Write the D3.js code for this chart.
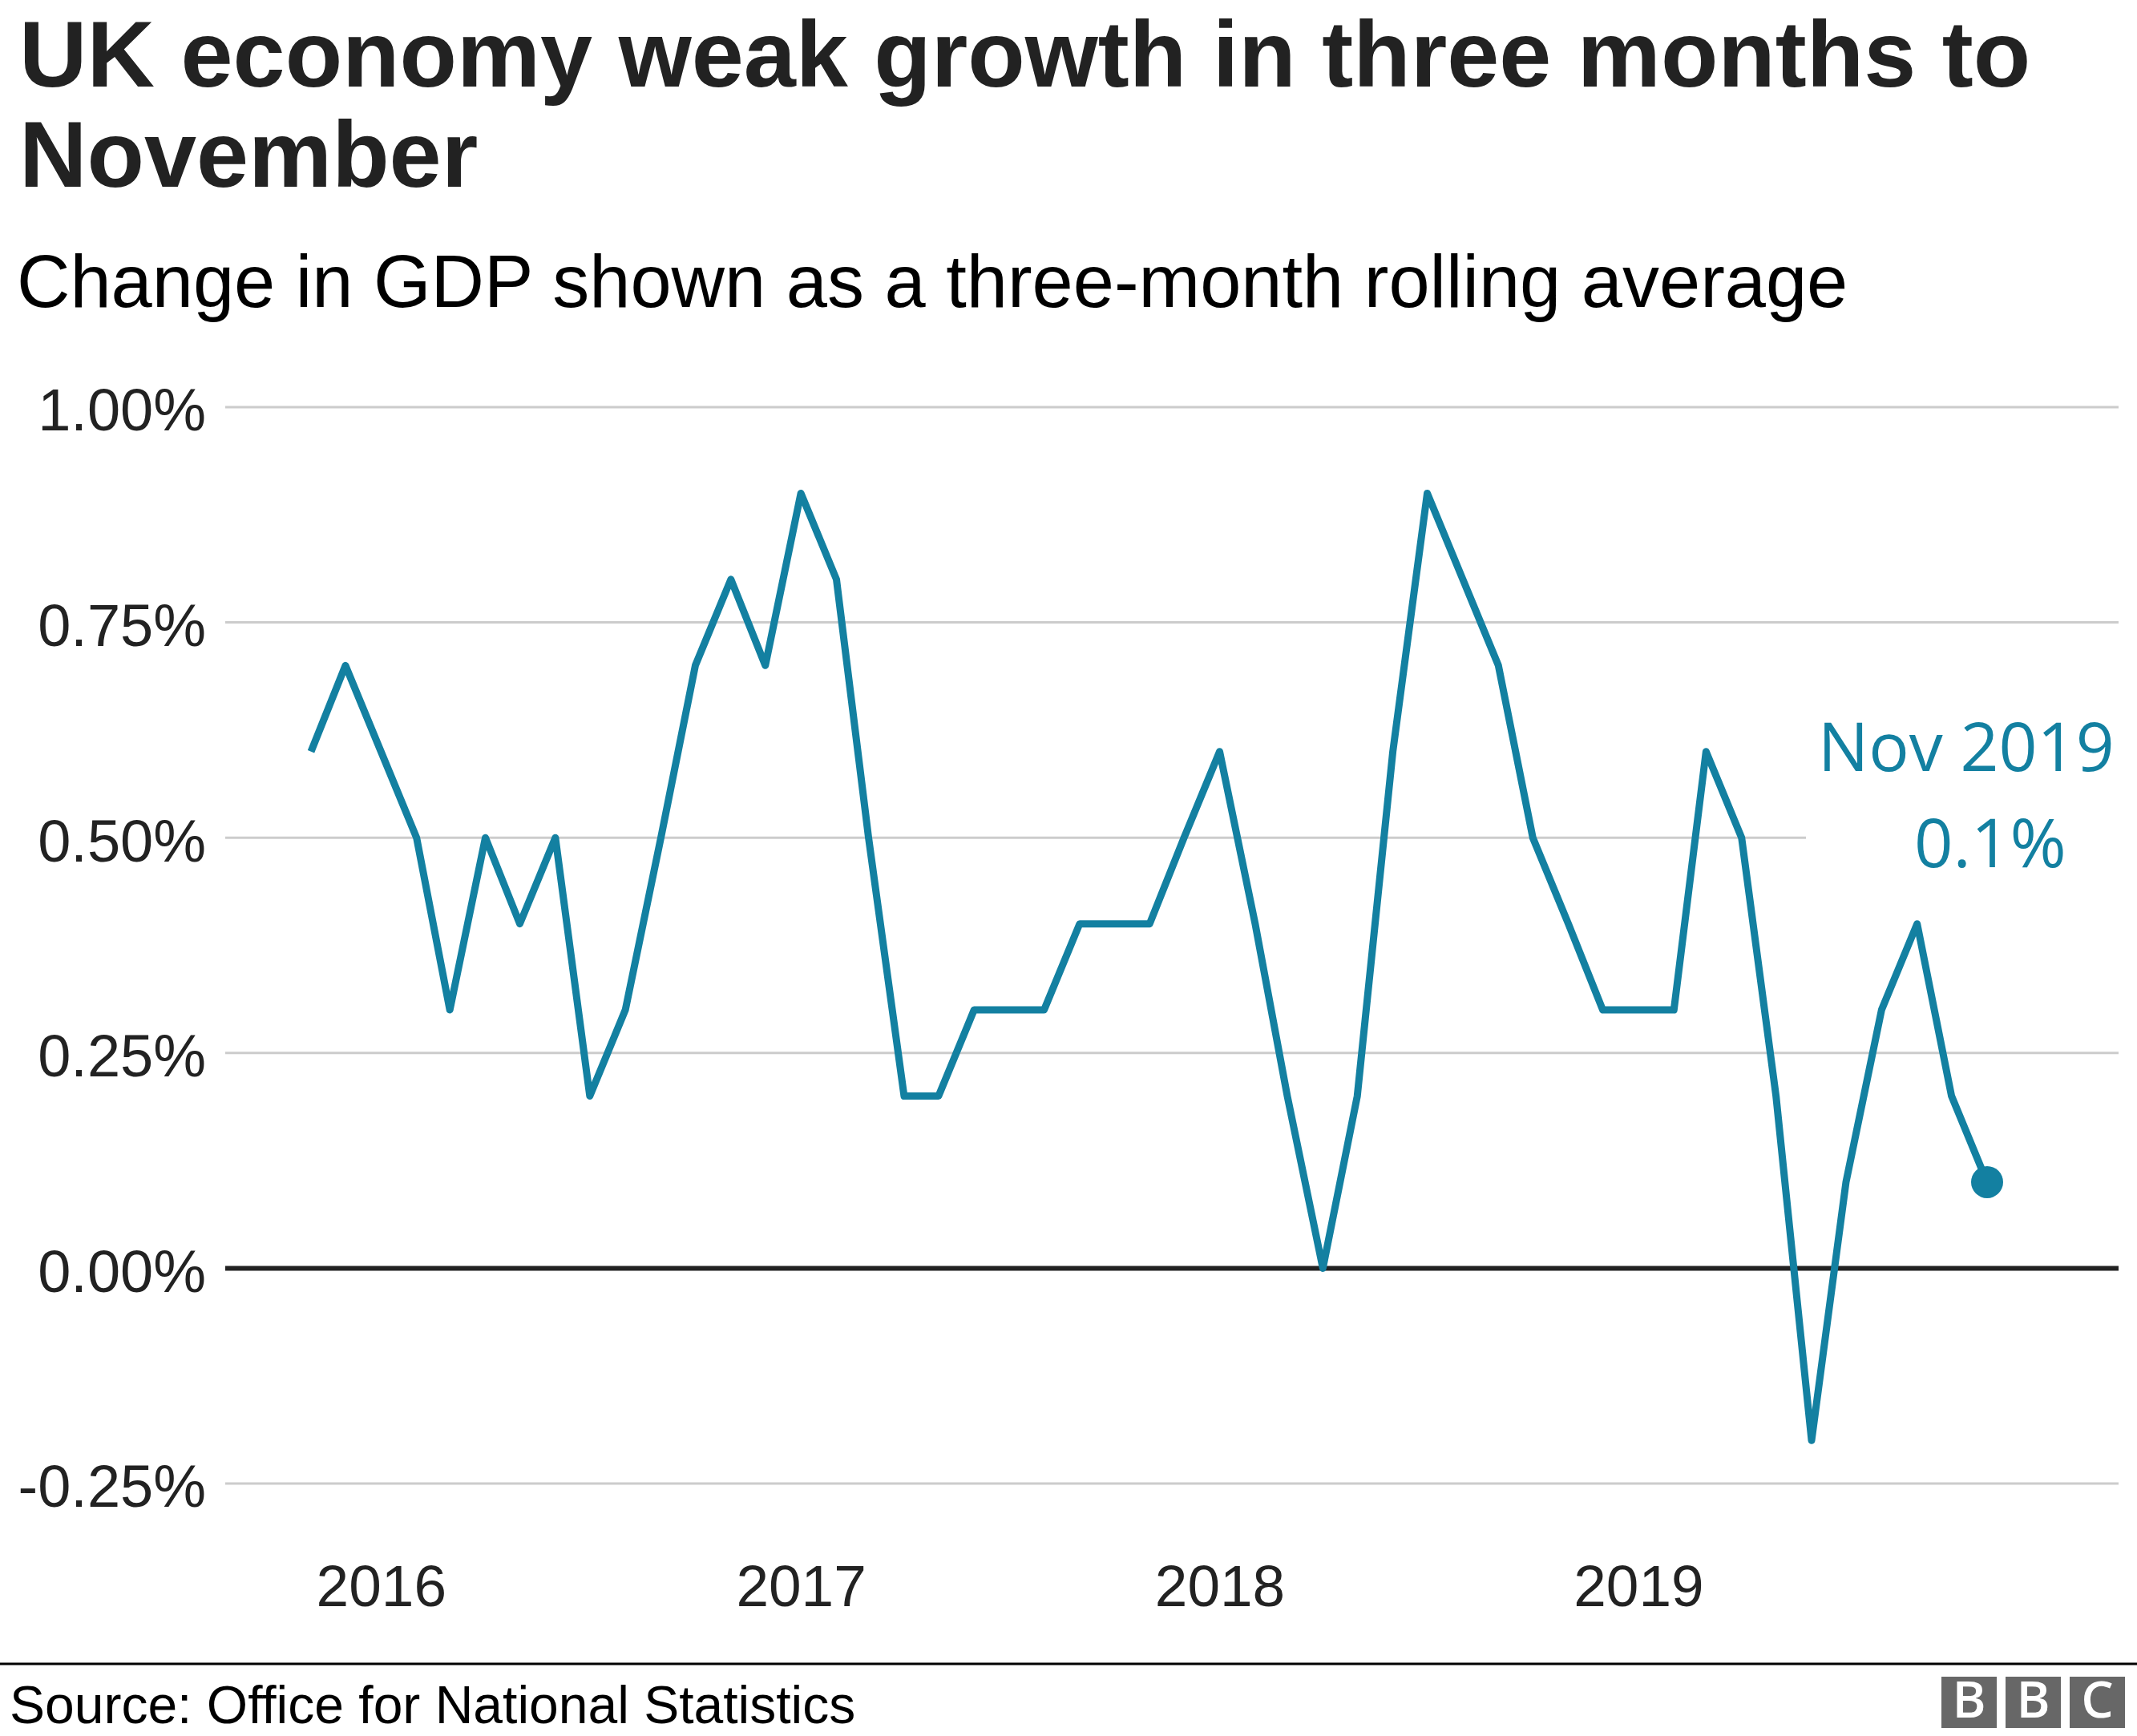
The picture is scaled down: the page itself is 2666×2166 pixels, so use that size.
<!DOCTYPE html>
<html>
<head>
<meta charset="utf-8">
<script src="https://cdn.jsdelivr.net/npm/d3@7"></script>
<style>
  html, body { margin: 0; padding: 0; background: #ffffff; }
  svg { display: block; }
</style>
</head>
<body>
<svg id="chart" width="2666" height="2166"></svg>
<script>
// ---- Data ----
const months = [
  "2015-11","2015-12",
  "2016-01","2016-02","2016-03","2016-04","2016-05","2016-06","2016-07","2016-08","2016-09","2016-10","2016-11","2016-12",
  "2017-01","2017-02","2017-03","2017-04","2017-05","2017-06","2017-07","2017-08","2017-09","2017-10","2017-11","2017-12",
  "2018-01","2018-02","2018-03","2018-04","2018-05","2018-06","2018-07","2018-08","2018-09","2018-10","2018-11","2018-12",
  "2019-01","2019-02","2019-03","2019-04","2019-05","2019-06","2019-07","2019-08","2019-09","2019-10","2019-11"
];
const gdpGrowth = [
  0.6, 0.7,
  0.6, 0.5, 0.3, 0.5, 0.4, 0.5, 0.2, 0.3, 0.5, 0.7, 0.8, 0.7,
  0.9, 0.8, 0.5, 0.2, 0.2, 0.3, 0.3, 0.3, 0.4, 0.4, 0.4, 0.5,
  0.6, 0.4, 0.2, 0.0, 0.2, 0.6, 0.9, 0.8, 0.7, 0.5, 0.4, 0.3,
  0.3, 0.3, 0.6, 0.5, 0.2, -0.2, 0.1, 0.3, 0.4, 0.2, 0.1
];
const yTicks = [-0.25, 0, 0.25, 0.5, 0.75, 1.0];
const yTickLabels = ["-0.25%", "0.00%", "0.25%", "0.50%", "0.75%", "1.00%"];
const xTickYears = ["2016", "2017", "2018", "2019"];

const titleLines = ["UK economy weak growth in three months to", "November"];
const subtitle = "Change in GDP shown as a three-month rolling average";
const source = "Source: Office for National Statistics";
const annotationLines = ["Nov 2019", "0.1%"];

// ---- Setup ----
const W = 2666, H = 2166;
const svg = d3.select("#chart");
const parseMonth = d3.timeParse("%Y-%m");
const data = months.map((m, i) => ({ date: parseMonth(m), value: gdpGrowth[i] }));

const gridLeft = 281, gridRight = 2643;
const x = d3.scaleTime()
  .domain([data[0].date, data[data.length - 1].date])
  .range([388, 2479]);
const y = d3.scaleLinear().domain([-0.25, 1.0]).range([1851, 508]);

const teal = "#1380A1";
const dark = "#222222";

// Title
svg.append("g").selectAll("text").data(titleLines).join("text")
  .attr("x", 24).attr("y", (d, i) => 108 + i * 125)
  .attr("font-family", "'Liberation Sans', Arial, Helvetica, sans-serif")
  .attr("font-weight", "bold").attr("font-size", 117)
  .attr("fill", dark).text(d => d);

// Subtitle
svg.append("text").attr("x", 21).attr("y", 383)
  .attr("font-family", "'Liberation Sans', Arial, Helvetica, sans-serif")
  .attr("font-size", 92).attr("fill", "#000000").text(subtitle);

// Gridlines
const grid = svg.append("g");
grid.selectAll("line").data(yTicks.filter(v => v !== 0)).join("line")
  .attr("x1", gridLeft)
  .attr("x2", d => d === 0.5 ? 2253 : gridRight)
  .attr("y1", d => y(d)).attr("y2", d => y(d))
  .attr("stroke", "#cccccc").attr("stroke-width", 3);

// Y axis labels
const yAxis = d3.axisLeft(y).tickValues(yTicks)
  .tickFormat((d, i) => yTickLabels[i]).tickSize(0).tickPadding(0);
const yg = svg.append("g").attr("transform", "translate(257,0)").call(yAxis);
yg.select(".domain").remove();
yg.selectAll("text")
  .attr("font-family", "'Liberation Sans', Arial, Helvetica, sans-serif")
  .attr("font-size", 74).attr("fill", dark).attr("dy", "0.39em");

// X axis labels
const xAxis = d3.axisBottom(x)
  .tickValues(xTickYears.map(yr => parseMonth(yr + "-01")))
  .tickFormat(d3.timeFormat("%Y")).tickSize(0).tickPadding(0);
const xg = svg.append("g").attr("transform", "translate(0,2004)").call(xAxis);
xg.select(".domain").remove();
xg.selectAll("text")
  .attr("font-family", "'Liberation Sans', Arial, Helvetica, sans-serif")
  .attr("font-size", 73).attr("fill", dark).attr("dy", 0);

// Zero line
svg.append("line")
  .attr("x1", gridLeft).attr("x2", gridRight)
  .attr("y1", y(0)).attr("y2", y(0))
  .attr("stroke", dark).attr("stroke-width", 6);

// Line
const line = d3.line().x(d => x(d.date)).y(d => y(d.value));
svg.append("path").datum(data)
  .attr("d", line).attr("fill", "none")
  .attr("stroke", teal).attr("stroke-width", 9)
  .attr("stroke-linejoin", "round");

// End dot
const last = data[data.length - 1];
svg.append("circle")
  .attr("cx", x(last.date)).attr("cy", y(last.value)).attr("r", 20)
  .attr("fill", teal);

// Annotation
svg.append("text").attr("x", 2268).attr("y", 962)
  .attr("font-family", "'Open Sans', 'Noto Sans', sans-serif")
  .attr("font-size", 84).attr("fill", teal).text(annotationLines[0]);
svg.append("text").attr("x", 2388).attr("y", 1082)
  .attr("font-family", "'Open Sans', 'Noto Sans', sans-serif")
  .attr("font-size", 85).attr("fill", teal).text(annotationLines[1]);

// Footer rule
svg.append("line").attr("x1", 0).attr("x2", W)
  .attr("y1", 2076).attr("y2", 2076)
  .attr("stroke", "#000000").attr("stroke-width", 3);

// Source
svg.append("text").attr("x", 12).attr("y", 2150)
  .attr("font-family", "'Liberation Sans', Arial, Helvetica, sans-serif")
  .attr("font-size", 66).attr("fill", "#000000").text(source);

// BBC logo
const logoLetters = ["B", "B", "C"];
const logo = svg.append("g");
logo.selectAll("rect").data(logoLetters).join("rect")
  .attr("x", (d, i) => 2422 + i * 80).attr("y", 2092)
  .attr("width", 69).attr("height", 64).attr("fill", "#676767");
logo.selectAll("text").data(logoLetters).join("text")
  .attr("x", (d, i) => 2422 + i * 80 + 34.5).attr("y", 2143)
  .attr("text-anchor", "middle")
  .attr("font-family", "'Open Sans', 'Liberation Sans', sans-serif")
  .attr("font-weight", 600).attr("font-size", 64)
  .attr("fill", "#ffffff").text(d => d);
</script>
</body>
</html>
